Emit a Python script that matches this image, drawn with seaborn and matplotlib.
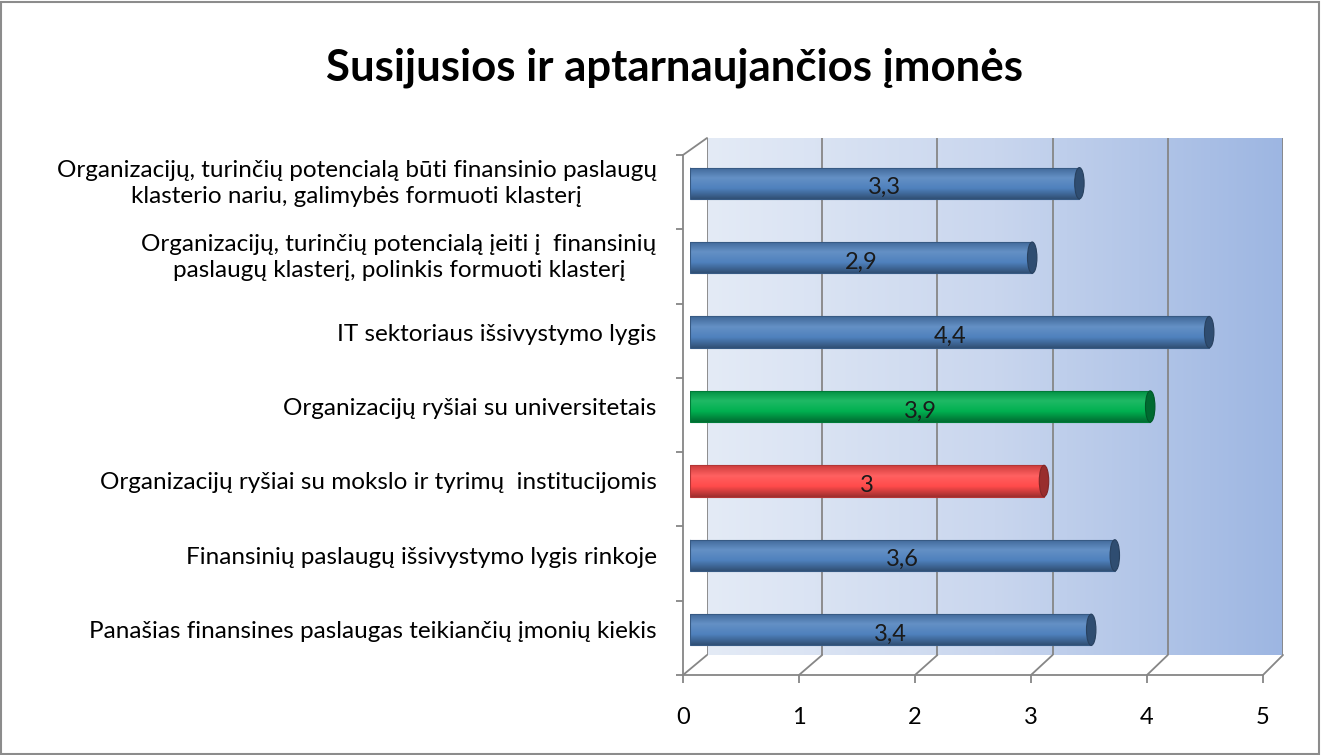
import numpy as np
import pandas as pd
import matplotlib
matplotlib.use("Agg")
import matplotlib.pyplot as plt
import seaborn as sns
from matplotlib.colors import LinearSegmentedColormap, to_rgb
from matplotlib.patches import ConnectionPatch, Ellipse, Rectangle

# ---------------- data ----------------
categories = [
    "Organizacijų, turinčių potencialą būti finansinio paslaugų\nklasterio nariu, galimybės formuoti klasterį",
    "Organizacijų, turinčių potencialą įeiti į  finansinių\npaslaugų klasterį, polinkis formuoti klasterį",
    "IT sektoriaus išsivystymo lygis",
    "Organizacijų ryšiai su universitetais",
    "Organizacijų ryšiai su mokslo ir tyrimų  institucijomis",
    "Finansinių paslaugų išsivystymo lygis rinkoje",
    "Panašias finansines paslaugas teikiančių įmonių kiekis",
]
values = [3.3, 2.9, 4.4, 3.9, 3.0, 3.6, 3.4]
bar_colors = ["#4F81BD", "#4F81BD", "#4F81BD", "#00B050", "#FF4B4B", "#4F81BD", "#4F81BD"]
x_ticks = [0, 1, 2, 3, 4, 5]
title = "Susijusios ir aptarnaujančios įmonės"

# ---------------- style ----------------
sns.set_theme(style="white")
plt.rcParams["font.family"] = ["Lato", "DejaVu Sans"]

W, H = 1322, 755
fig = plt.figure(figsize=(W / 100, H / 100), dpi=100)
fig.patch.set_facecolor("white")


def rect(l, t, r, b):
    return [l / W, 1 - b / H, (r - l) / W, (b - t) / H]


grey = "#868686"

# back wall
ax_wall = fig.add_axes(rect(707, 138, 1283, 655))
wall_cmap = LinearSegmentedColormap.from_list("wall", ["#e4ebf6", "#c9d6ee", "#9db6e2"])
ax_wall.imshow(np.linspace(0, 1, 256)[None, :], cmap=wall_cmap, aspect="auto",
               extent=(0, 5, 0, 1), zorder=0)
ax_wall.set_xlim(0, 5)
ax_wall.set_ylim(0, 1)
for k in x_ticks:
    ax_wall.axvline(k, color=grey, lw=1.3, zorder=1)
for s in ax_wall.spines.values():
    s.set_visible(False)
ax_wall.set_xticks([])
ax_wall.set_yticks([])

# front floor / axes
ax_floor = fig.add_axes(rect(683, 155, 1263, 675))
ax_floor.set_facecolor("none")
ax_floor.set_xlim(0, 5)
ax_floor.set_ylim(-0.5, len(categories) - 0.5)
ax_floor.set_xticks(x_ticks)
ax_floor.set_xticklabels([str(t) for t in x_ticks])
ax_floor.set_yticks(np.arange(-0.5, len(categories), 1.0))
ax_floor.set_yticklabels([])
for side in ["top", "right"]:
    ax_floor.spines[side].set_visible(False)
for side in ["left", "bottom"]:
    ax_floor.spines[side].set_color(grey)
    ax_floor.spines[side].set_linewidth(1.3)
ax_floor.tick_params(axis="x", direction="out", length=6, width=1.3, color=grey,
                     labelsize=17, pad=17, labelcolor="black", bottom=True)
ax_floor.tick_params(axis="y", direction="out", length=5, width=1.3, color=grey, left=True)

# floor diagonals connecting front axis to back wall
for k in x_ticks:
    cp = ConnectionPatch(xyA=(k, 0), coordsA=ax_floor.get_xaxis_transform(),
                         xyB=(k, 0), coordsB=ax_wall.get_xaxis_transform(),
                         color=grey, lw=1.3)
    fig.add_artist(cp)
cp = ConnectionPatch(xyA=(0, 1), coordsA=ax_floor.transAxes,
                     xyB=(0, 1), coordsB=ax_wall.transAxes, color=grey, lw=1.3)
fig.add_artist(cp)

# bars
ax = fig.add_axes(rect(690, 146, 1280, 667))
ax.set_facecolor("none")
df = pd.DataFrame({"category": categories, "value": values})
sns.barplot(data=df, x="value", y="category", hue="category", palette=bar_colors,
            legend=False, width=0.42, orient="h", ax=ax)
ax.set_xlim(0, 5)
ax.set_ylim(len(categories) - 0.5, -0.5)


def shade(c, f):
    r, g, b = to_rgb(c)
    return (r * f, g * f, b * f)


def tint(c, f):
    r, g, b = to_rgb(c)
    return (r + (1 - r) * f, g + (1 - g) * f, b + (1 - b) * f)


patches = sorted(ax.patches, key=lambda p: p.get_y())
for p, col, v in zip(patches, bar_colors, values):
    x0, y0, w, h = p.get_x(), p.get_y(), p.get_width(), p.get_height()
    cmap = LinearSegmentedColormap.from_list(
        "cyl", [shade(col, 0.8), tint(col, 0.12), col, shade(col, 0.62)])
    ax.add_patch(Ellipse((x0, y0 + h / 2), width=0.06, height=h,
                         facecolor=shade(col, 0.8), edgecolor="none", zorder=1))
    im = ax.imshow(np.linspace(0, 1, 100)[:, None], cmap=cmap, aspect="auto",
                   extent=(x0, x0 + w, y0 + h, y0), zorder=2)
    im.set_clip_path(p)
    p.set_facecolor("none")
    p.set_edgecolor(shade(col, 0.7))
    p.set_linewidth(0.8)
    p.set_zorder(3)
    ax.add_patch(Ellipse((x0 + w, y0 + h / 2), width=0.08, height=h,
                         facecolor=shade(col, 0.6), edgecolor=shade(col, 0.5),
                         lw=0.8, zorder=4))
    ax.text(x0 + w / 2, y0 + h / 2 + 0.06, f"{v:g}".replace(".", ","),
            ha="center", va="center", fontsize=17, color="#1a1a1a", zorder=5)

ax.set_xlim(0, 5)
ax.set_ylim(len(categories) - 0.5, -0.5)
ax.set_xlabel("")
ax.set_ylabel("")
ax.set_xticks([])
for s in ax.spines.values():
    s.set_visible(False)
ax.tick_params(axis="y", length=0, pad=24, labelsize=17.5, labelcolor="black")
for lbl in ax.get_yticklabels():
    lbl.set_multialignment("center")
    lbl.set_linespacing(1.3)
    if "\n" in lbl.get_text():
        lbl.set_verticalalignment("center")

fig.text(674 / W, 1 - 68 / H, title, ha="center", va="center",
         fontsize=31.5, fontweight="bold", color="black")

fig.add_artist(Rectangle((0.001, 0.001), 0.997, 0.997, transform=fig.transFigure,
                         fill=False, edgecolor="#8c8c8c", lw=1.5))

fig.savefig("out.png", dpi=100)
